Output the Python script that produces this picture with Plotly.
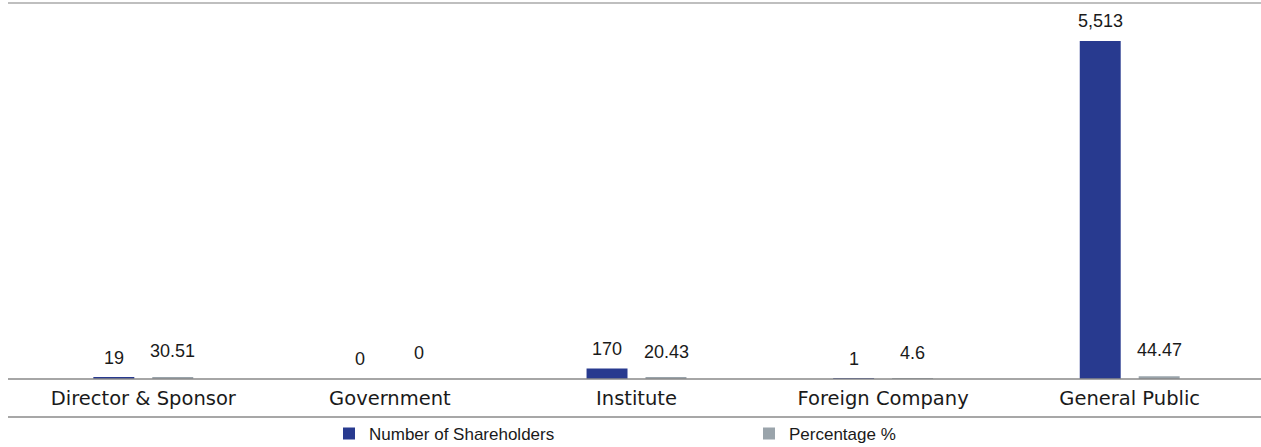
import plotly.graph_objects as go

categories = ["Director & Sponsor", "Government", "Institute", "Foreign Company", "General Public"]
shareholders = [19, 0, 170, 1, 5513]
percentage = [30.51, 0, 20.43, 4.6, 44.47]
shareholder_labels = ["19", "0", "170", "1", "5,513"]
percentage_labels = ["30.51", "0", "20.43", "4.6", "44.47"]

BLUE = "#283a8f"
GRAY = "#9aa4ab"
TICK_FONT = "DejaVu Sans"
LABEL_FONT = "Liberation Sans"

W, H = 1261, 447
ML, MR, MT, MB = 20, 8, 3, 68
PW = W - ML - MR
PH = H - MT - MB

fig = go.Figure()
fig.add_trace(go.Bar(name="Number of Shareholders", x=categories, y=shareholders,
                     marker=dict(color=BLUE, line=dict(width=0))))
fig.add_trace(go.Bar(name="Percentage %", x=categories, y=percentage,
                     marker=dict(color=GRAY, line=dict(width=0))))

ann = []
for c, v, t in zip(categories, shareholders, shareholder_labels):
    ann.append(dict(x=c, y=v, xref="x", yref="y", text=t, showarrow=False,
                    xshift=-29.5, yshift=20, yanchor="middle",
                    font=dict(family=LABEL_FONT, size=18, color="#1a1a1a")))
for c, v, t in zip(categories, percentage, percentage_labels):
    ann.append(dict(x=c, y=v, xref="x", yref="y", text=t, showarrow=False,
                    xshift=29.5, yshift=26, yanchor="middle",
                    font=dict(family=LABEL_FONT, size=18, color="#1a1a1a")))

x0 = (8 - ML) / PW
x1 = (W - ML) / PW
yb = -(417 - (H - MB)) / PH
shapes = [
    dict(type="line", xref="paper", yref="paper", x0=x0, x1=x1, y0=1, y1=1,
         line=dict(color="#aaaaaa", width=1.5)),
    dict(type="line", xref="paper", yref="paper", x0=x0, x1=x1, y0=0, y1=0,
         line=dict(color="#888888", width=1.5)),
    dict(type="line", xref="paper", yref="paper", x0=x0, x1=x1, y0=yb, y1=yb,
         line=dict(color="#8a8a8a", width=1.5)),
]

fig.update_layout(
    width=W, height=H,
    margin=dict(l=ML, r=MR, t=MT, b=MB, autoexpand=False),
    paper_bgcolor="white", plot_bgcolor="white",
    barmode="group", bargap=0.522, bargroupgap=0.305,
    font=dict(family=LABEL_FONT, size=17, color="#1a1a1a"),
    xaxis=dict(showgrid=False, zeroline=False, showline=False, ticks="",
               ticklabelstandoff=5,
               tickfont=dict(family=TICK_FONT, size=19.5, color="#1a1a1a")),
    yaxis=dict(visible=False, range=[0, 6133], showgrid=False, zeroline=False),
    showlegend=True,
    legend=dict(orientation="h", x=(329 - ML) / PW, xanchor="left",
                y=-0.098, yanchor="top", entrywidth=375, entrywidthmode="pixels",
                font=dict(family=LABEL_FONT, size=17, color="#1a1a1a"),
                bgcolor="rgba(0,0,0,0)"),
    annotations=ann, shapes=shapes,
)

fig.write_html("out.html", config={"displayModeBar": False},
               post_script="document.body.style.margin='0';document.body.style.overflow='hidden';")
